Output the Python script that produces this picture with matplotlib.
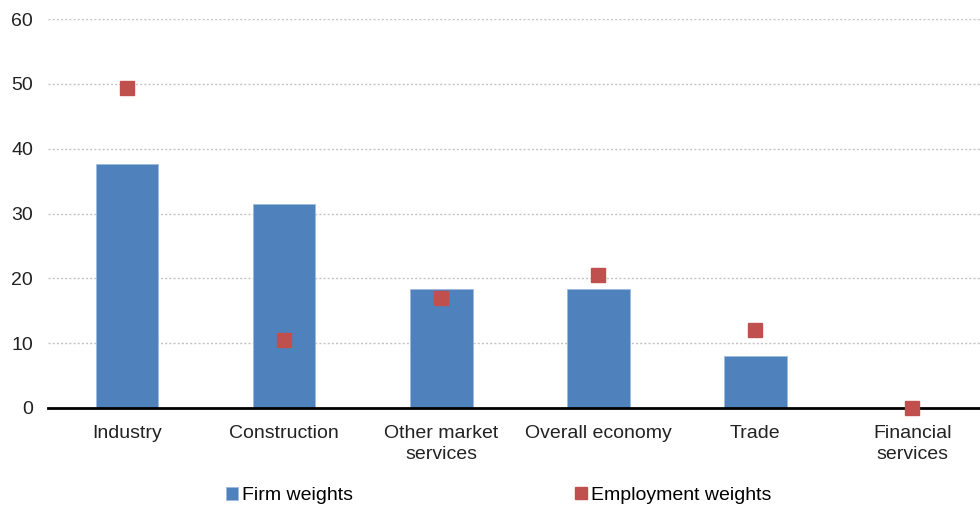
import matplotlib.pyplot as plt
import numpy as np

plt.rcParams['font.family'] = ['Liberation Sans', 'DejaVu Sans']

categories = ['Industry', 'Construction', 'Other market\nservices', 'Overall economy', 'Trade', 'Financial\nservices']
firm_weights = [37.6, 31.5, 18.4, 18.4, 8.0, 0.0]
employment_weights = [49.4, 10.5, 17.0, 20.5, 12.0, 0.0]

fig = plt.figure(figsize=(9.8, 5.09), dpi=100)
ax = fig.add_axes([48.4 / 980, 1 - 408 / 509, (980 - 48.4) / 980, (408 - 19) / 509])

x = np.arange(len(categories))
bars = ax.bar(x, firm_weights, width=0.40, color='#4F81BD', edgecolor='#9DBBE0', linewidth=0.6,
              label='Firm weights', zorder=2)
pts = ax.plot(x, employment_weights, linestyle='none', marker='s', markersize=10,
              color='#C0504D', label='Employment weights', zorder=4, clip_on=False)

ax.set_xlim(-0.5, 5.43)
ax.set_ylim(0, 60)
ax.set_yticks(range(0, 61, 10))
ax.yaxis.grid(True, linestyle=(0, (1.5, 1.5)), color='#C4C4C4', linewidth=1)
ax.set_axisbelow(True)
for s in ['left', 'right', 'top']:
    ax.spines[s].set_visible(False)
ax.spines['bottom'].set_linewidth(2)
ax.spines['bottom'].set_color('black')
ax.spines['bottom'].set_zorder(3)
ax.tick_params(axis='both', length=0, labelsize=14, colors='#222222')
ax.tick_params(axis='y', pad=11)
ax.tick_params(axis='x', pad=12)
ax.set_xticks(x)
ax.set_xticklabels(categories, linespacing=1.35)

leg = fig.legend(handles=[bars, pts[0]], loc='center', bbox_to_anchor=(0.509, 1 - 495 / 509),
                 ncol=2, frameon=False, fontsize=14, columnspacing=11.4, handlelength=0.62,
                 handletextpad=0.22, markerscale=0.86)
leg.legend_handles[0].set_height(9)
leg.legend_handles[0].set_width(9)

fig.savefig('out.png', dpi=100)
